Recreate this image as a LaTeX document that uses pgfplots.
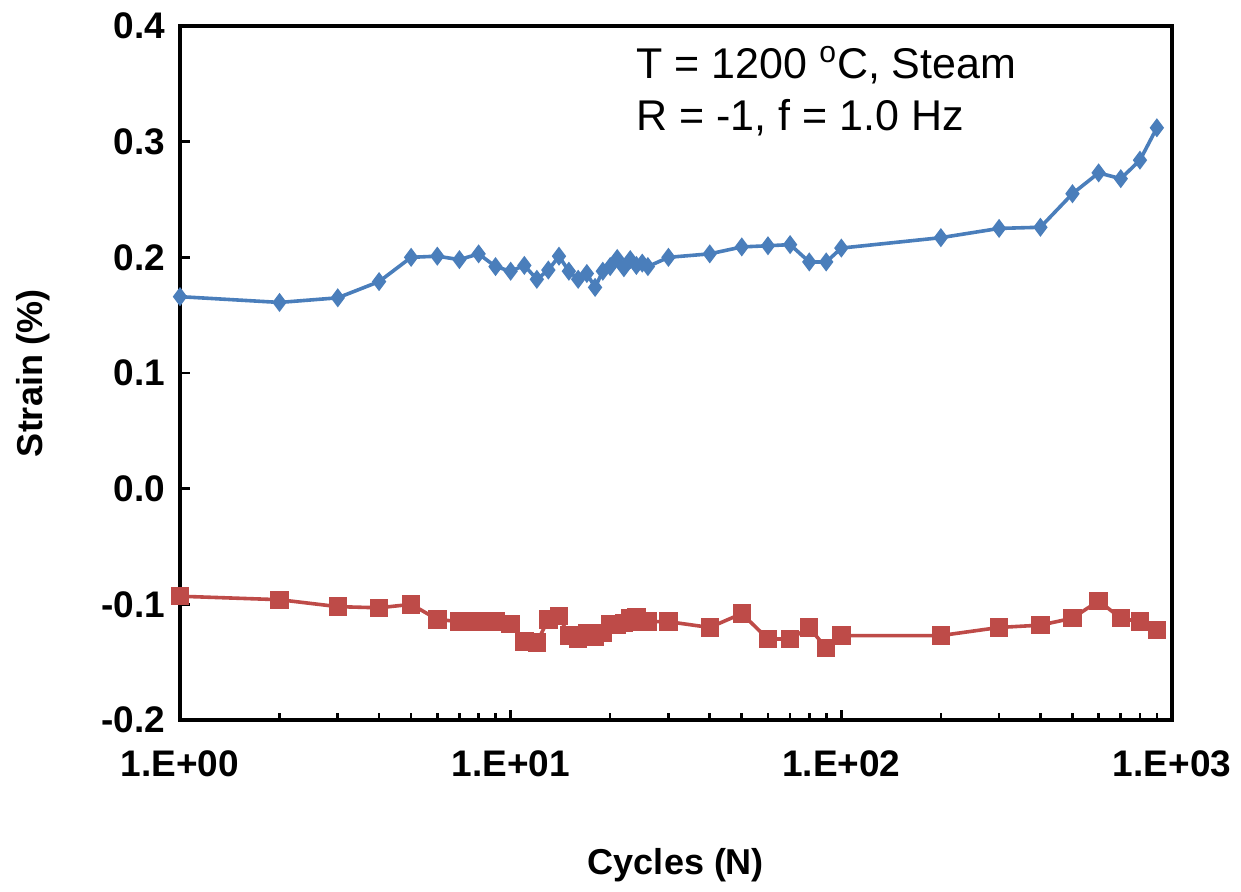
\documentclass[border=0pt]{standalone}
\usepackage{fontspec}
\setmainfont{Liberation Sans}
\usepackage{pgfplots}
\pgfplotsset{compat=1.18}
\definecolor{blueS}{HTML}{4A7EBB}
\definecolor{redS}{HTML}{BE4B48}
\begin{document}
\begin{tikzpicture}
\begin{axis}[
  scale only axis, width=496pt, height=347pt,
  xmode=log, xmin=1, xmax=1000, ymin=-0.2, ymax=0.4,
  axis line style={line width=2pt},
  tick style={black, line width=1.3pt},
  major tick length=5pt, minor tick length=3.5pt,
  tick align=inside, tick pos=left,
  xtick={1,10,100,1000}, xticklabels={1.E+00,1.E+01,1.E+02,1.E+03},
  minor xtick={2,3,4,5,6,7,8,9,20,30,40,50,60,70,80,90,200,300,400,500,600,700,800,900},
  ytick={-0.2,-0.1,0,0.1,0.2,0.3,0.4}, yticklabels={-0.2,-0.1,0.0,0.1,0.2,0.3,0.4},
  ticklabel style={font=\fontsize{18.5}{21}\selectfont\bfseries},
  yticklabel style={xshift=-4pt},
  xticklabel style={yshift=-12pt},
  xlabel={Cycles (N)}, ylabel={Strain (\%)},
  label style={font=\fontsize{18}{21}\selectfont\bfseries},
  xlabel style={at={(axis description cs:0.5,-0.209)},anchor=center},
  ylabel style={at={(axis description cs:-0.148,0.5)},anchor=center},
  clip=false,
]
\addplot[blueS, line width=1.8pt, mark=diamond*, mark size=3.3pt, mark options={solid, fill=blueS}] table {
1 0.166
2 0.161
3 0.165
4 0.179
5 0.200
6 0.201
7 0.198
8 0.203
9 0.192
10 0.188
11 0.193
12 0.181
13 0.189
14 0.201
15 0.188
16 0.181
17 0.186
18 0.174
19 0.188
20 0.192
21 0.199
22 0.191
23 0.198
24 0.193
25 0.195
26 0.192
30 0.200
40 0.203
50 0.209
60 0.210
70 0.211
80 0.196
90 0.196
100 0.208
200 0.217
300 0.225
400 0.226
500 0.255
600 0.273
700 0.268
800 0.284
900 0.312
};
\addplot[redS, line width=1.8pt, mark=square*, mark size=3.7pt, mark options={solid, fill=redS}] table {
1 -0.093
2 -0.096
3 -0.102
4 -0.103
5 -0.100
6 -0.113
7 -0.115
8 -0.115
9 -0.115
10 -0.117
11 -0.132
12 -0.133
13 -0.113
14 -0.110
15 -0.127
16 -0.130
17 -0.125
18 -0.128
19 -0.125
20 -0.117
21 -0.118
22 -0.116
23 -0.112
24 -0.111
25 -0.115
26 -0.115
30 -0.115
40 -0.120
50 -0.108
60 -0.130
70 -0.130
80 -0.120
90 -0.138
100 -0.127
200 -0.127
300 -0.120
400 -0.118
500 -0.112
600 -0.097
700 -0.112
800 -0.115
900 -0.122
};
\node[anchor=base west, inner sep=0, font=\fontsize{21.5}{25}\selectfont] at (rel axis cs:0.4597,0.925) {T = 1200 \textsuperscript{o}C, Steam};
\node[anchor=base west, inner sep=0, font=\fontsize{21.5}{25}\selectfont] at (rel axis cs:0.4597,0.849) {R = -1, f = 1.0 Hz};
\end{axis}
\pgfresetboundingbox
\path (-90pt,-86pt) rectangle (530.5pt,360pt);
\end{tikzpicture}
\end{document}
